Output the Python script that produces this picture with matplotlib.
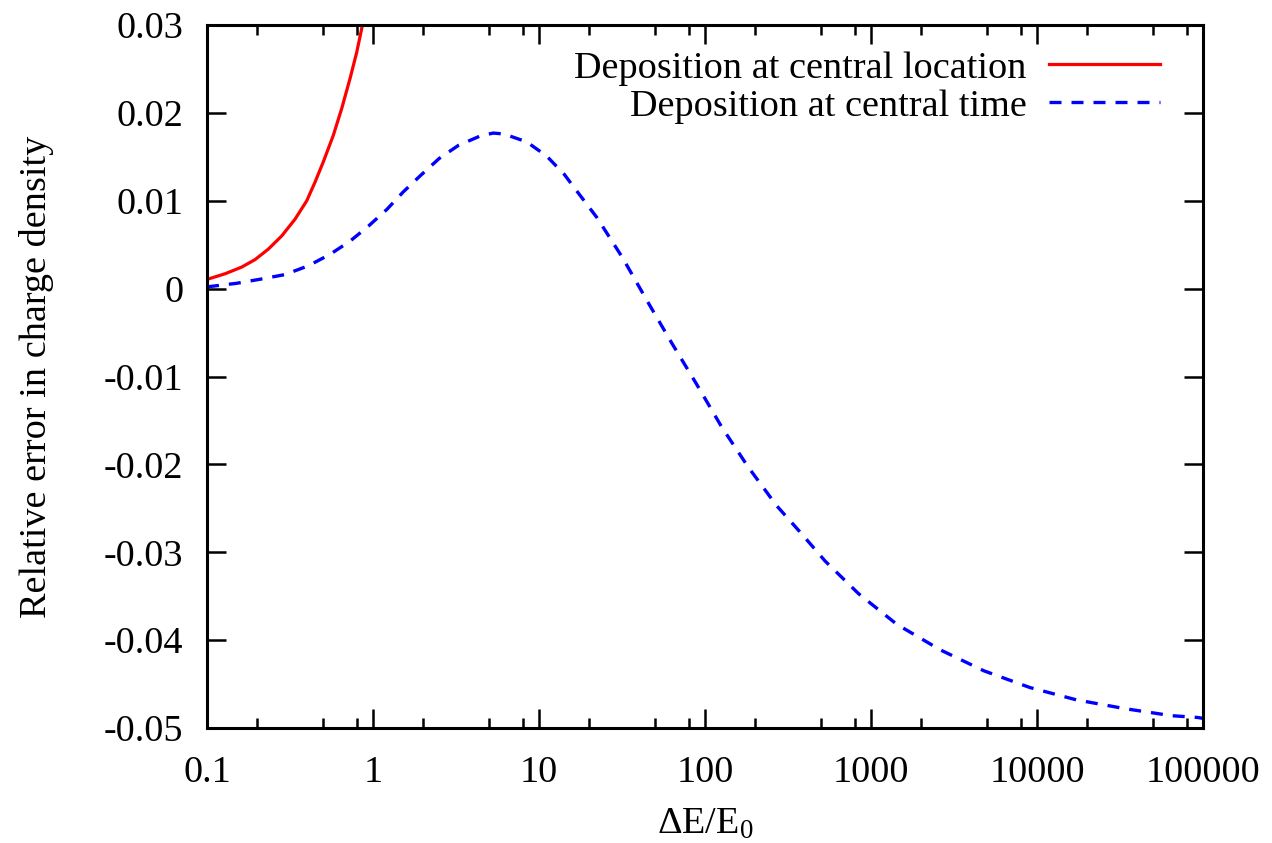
import matplotlib
matplotlib.use("Agg")
import matplotlib.pyplot as plt
from matplotlib.ticker import FixedLocator, NullFormatter, FixedFormatter

plt.rcParams['font.family'] = ['Liberation Serif', 'DejaVu Serif']
plt.rcParams['mathtext.fontset'] = 'custom'
plt.rcParams['mathtext.rm'] = 'Liberation Serif'
plt.rcParams['mathtext.it'] = 'Liberation Serif:italic'

# Data
x_loc = [0.1, 0.1284, 0.1618, 0.1946, 0.234, 0.282, 0.339, 0.399, 0.447, 0.502,
         0.577, 0.648, 0.727, 0.798, 0.855, 0.9]
y_loc = [0.00105, 0.00169, 0.00245, 0.0033, 0.00449, 0.0060, 0.0079, 0.0100, 0.0121,
         0.01443, 0.01746, 0.0205, 0.0239, 0.0269, 0.0296, 0.0318]

x_time = [0.1, 0.15, 0.2136, 0.295, 0.408, 0.502, 0.551, 0.727, 0.937, 1.21, 1.52,
          1.94, 2.50, 3.27, 4.46, 5.3, 6.15, 8.43, 11.1, 14.2, 16.9,
          22.4, 31.9, 44.9, 62.9, 89.1, 126, 182, 270, 382, 529, 840, 1430,
          2610, 4800, 9080, 17300, 33900, 64700, 92500, 100000]
y_time = [0.0002, 0.0006, 0.0011, 0.0016, 0.0026, 0.0035, 0.0039, 0.0054, 0.0071,
          0.0090, 0.0110, 0.0129, 0.0148, 0.0163, 0.0174, 0.0177, 0.0176, 0.0167,
          0.0151, 0.0130, 0.0111,
          0.00805, 0.0035, -0.00142, -0.00616, -0.01089, -0.01574, -0.0203,
          -0.0247, -0.0279, -0.0310, -0.0347, -0.0382, -0.0411, -0.0435, -0.0454,
          -0.0468, -0.0478, -0.0486, -0.0488, -0.0489]

labels = ["Deposition at central location", "Deposition at central time"]
x_ticks = [0.1, 1, 10, 100, 1000, 10000, 100000]
x_ticklabels = ["0.1", "1", "10", "100", "1000", "10000", "100000"]
y_ticks = [-0.05, -0.04, -0.03, -0.02, -0.01, 0, 0.01, 0.02, 0.03]
y_ticklabels = ["-0.05", "-0.04", "-0.03", "-0.02", "-0.01", "0", "0.01", "0.02", "0.03"]

FS = 27.5

fig = plt.figure(figsize=(12.72, 8.43), dpi=100)
ax = fig.add_axes([207/1272, 1 - 728/843, (1203-207)/1272, (728-25)/843])

ax.plot(x_loc, y_loc, color='#ff0000', lw=2.3, label=labels[0])
ax.plot(x_time, y_time, color='#0000ff', lw=2.4, dashes=(3.6, 3.0), label=labels[1])

ax.set_xscale('log')
ax.set_xlim(0.1, 100000)
ax.set_ylim(-0.05, 0.03)

ax.xaxis.set_major_locator(FixedLocator(x_ticks))
ax.xaxis.set_major_formatter(FixedFormatter(x_ticklabels))
minors = [m * d for d in [0.1, 1, 10, 100, 1000, 10000] for m in (2, 5, 8)]
ax.xaxis.set_minor_locator(FixedLocator(minors))
ax.xaxis.set_minor_formatter(NullFormatter())
ax.yaxis.set_major_locator(FixedLocator(y_ticks))
ax.yaxis.set_major_formatter(FixedFormatter(y_ticklabels))

for s in ax.spines.values():
    s.set_linewidth(2.2)

ax.tick_params(which='major', direction='in', length=14, width=1.8,
               top=True, right=True, labelsize=FS)
ax.tick_params(which='minor', direction='in', length=7, width=1.8,
               top=True, right=True)
ax.tick_params(axis='x', which='major', pad=20)
ax.tick_params(axis='y', which='major', pad=17)

ax.set_xlabel('ΔE/E$_0$', fontsize=FS, labelpad=12)
ax.set_ylabel('Relative error in charge density', fontsize=FS, labelpad=36)

leg = ax.legend(loc='upper right', bbox_to_anchor=(0.957, 0.963), frameon=False,
                markerfirst=False, fontsize=FS, handlelength=2.9, handletextpad=0.6,
                borderpad=0, borderaxespad=0, labelspacing=0.08)
for t in leg.get_texts():
    t.set_ha('right')

fig.savefig('out.png', dpi=100)
